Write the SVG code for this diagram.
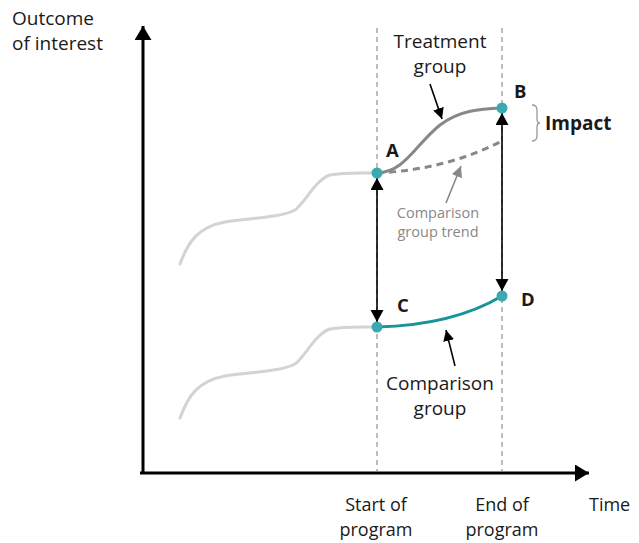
<svg xmlns="http://www.w3.org/2000/svg" width="639" height="543" viewBox="0 0 639 543">
<style>
text{font-family:"Open Sans","Liberation Sans",sans-serif;fill:#1a1a1a}
.lbl{font-size:19px}
.bot{font-size:18px}
.big{font-size:18.5px;font-weight:bold}
.sm{font-size:14.5px;fill:#888}
.dash{stroke:#999;stroke-width:1.3;stroke-dasharray:5 4;fill:none}
.bg{stroke:#d3d3d3;stroke-width:3;fill:none;stroke-linecap:round}
.dot{fill:#3aa9b1}
</style>
<defs>
<marker id="ah" markerUnits="userSpaceOnUse" markerWidth="14" markerHeight="14" refX="12" refY="6.5" orient="auto"><path d="M0,0 L12,6.5 L0,13 Z" fill="#000"/></marker>
<marker id="ahs" markerUnits="userSpaceOnUse" markerWidth="14" markerHeight="12" refX="11" refY="5.5" orient="auto"><path d="M0,0 L11,5.5 L0,11 Z" fill="#000"/></marker>
<marker id="ahg" markerUnits="userSpaceOnUse" markerWidth="14" markerHeight="12" refX="11" refY="5.5" orient="auto"><path d="M0,0 L11,5.5 L0,11 Z" fill="#888"/></marker>
<marker id="axh" markerUnits="userSpaceOnUse" markerWidth="16" markerHeight="18" refX="14" refY="8.5" orient="auto"><path d="M0,0 L14,8.5 L0,17 Z" fill="#000"/></marker>
</defs>
<g id="axes">
<line x1="143" y1="473" x2="143" y2="26" stroke="#000" stroke-width="3" marker-end="url(#axh)"/>
<line x1="140" y1="473" x2="589" y2="473" stroke="#000" stroke-width="3" marker-end="url(#axh)"/>
<line class="dash" x1="377" y1="28" x2="377" y2="471"/>
<line class="dash" x1="502" y1="28" x2="502" y2="471"/>
</g>
<g id="history">
<path class="bg" d="M180,264 C188,242 198,227 225,222 C250,218 280,218 295,210 C305,203 315,180 330,175 C345,172 365,173 377,173"/>
<path class="bg" d="M180,418 C188,396 198,381 225,376 C250,372 280,372 295,364 C305,357 315,334 330,329 C345,326 365,327 377,327"/>
</g>
<g id="connectors">
<path d="M377,173 C405,172 415,145 440,125 C460,110 480,109 502,108" stroke="#888" stroke-width="3" fill="none"/>
<path d="M377,173 Q445,170 502,141" stroke="#888" stroke-width="3" fill="none" stroke-dasharray="7 5"/>
<path d="M377,327 C420,326 465,318 502,296" stroke="#17939a" stroke-width="3" fill="none"/>
<line x1="377" y1="250" x2="377" y2="178" stroke="#000" stroke-width="1.6" marker-end="url(#ah)"/>
<line x1="377" y1="250" x2="377" y2="322" stroke="#000" stroke-width="1.6" marker-end="url(#ah)"/>
<line x1="502" y1="200" x2="502" y2="113" stroke="#000" stroke-width="1.6" marker-end="url(#ah)"/>
<line x1="502" y1="200" x2="502" y2="291" stroke="#000" stroke-width="1.6" marker-end="url(#ah)"/>
<line x1="430" y1="84" x2="442" y2="119" stroke="#000" stroke-width="1.6" marker-end="url(#ahs)"/>
<line x1="455" y1="366" x2="446" y2="330" stroke="#000" stroke-width="1.6" marker-end="url(#ahs)"/>
<line x1="446" y1="203" x2="461" y2="166" stroke="#888" stroke-width="1.6" marker-end="url(#ahg)"/>
<path d="M532,105 Q537,105 537,110 L537,119 Q537,123 540,123 Q537,123 537,127 L537,136 Q537,141 532,141" stroke="#999" stroke-width="1.3" fill="none"/>
</g>
<g id="node-A"><circle class="dot" cx="377" cy="173" r="5.5"/><text class="big" x="386" y="157">A</text></g>
<g id="node-B"><circle class="dot" cx="502" cy="108" r="5.5"/><text class="big" x="514" y="98">B</text></g>
<g id="node-C"><circle class="dot" cx="377" cy="327" r="5.5"/><text class="big" x="397" y="312">C</text></g>
<g id="node-D"><circle class="dot" cx="502" cy="296" r="5.5"/><text class="big" x="521" y="306">D</text></g>
<g id="labels">
<text class="lbl" x="12" y="25">Outcome</text>
<text class="lbl" x="12" y="50">of interest</text>
<text class="lbl" x="440" y="48" text-anchor="middle">Treatment</text>
<text class="lbl" x="440" y="73" text-anchor="middle">group</text>
<text class="lbl" x="545" y="130" style="font-weight:bold">Impact</text>
<text class="sm" x="438" y="218" text-anchor="middle">Comparison</text>
<text class="sm" x="438" y="237" text-anchor="middle">group trend</text>
<text class="lbl" x="440" y="390" text-anchor="middle">Comparison</text>
<text class="lbl" x="440" y="415" text-anchor="middle">group</text>
<text class="bot" x="376" y="511" text-anchor="middle">Start of</text>
<text class="bot" x="376" y="536" text-anchor="middle">program</text>
<text class="bot" x="502" y="511" text-anchor="middle">End of</text>
<text class="bot" x="502" y="536" text-anchor="middle">program</text>
<text class="bot" x="589" y="511">Time</text>
</g>
</svg>
